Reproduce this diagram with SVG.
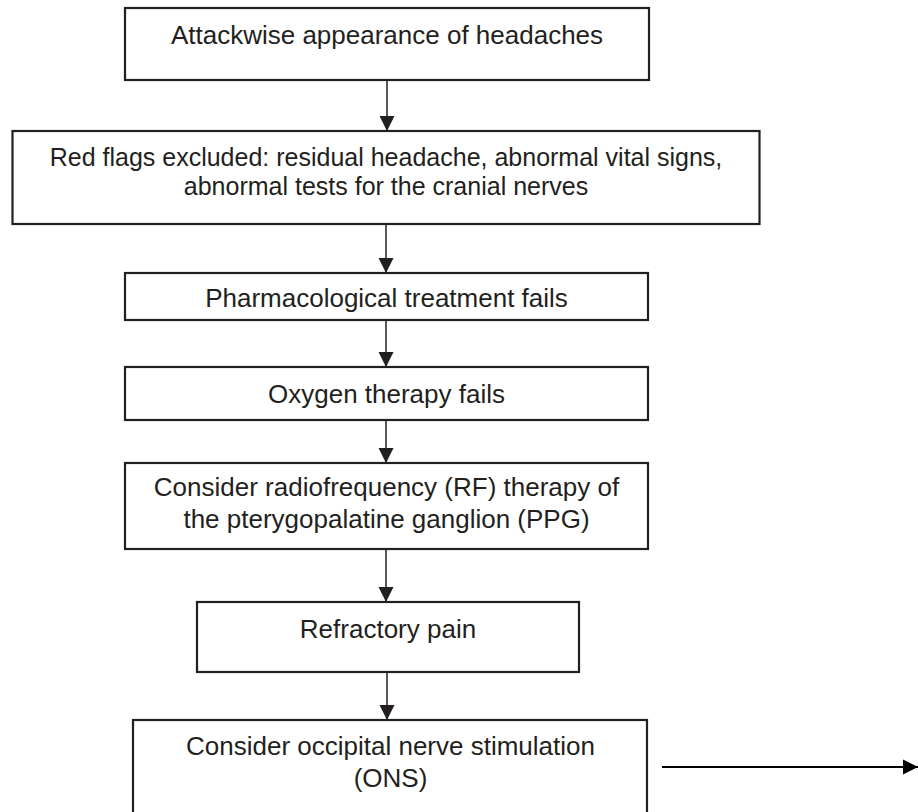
<svg xmlns="http://www.w3.org/2000/svg" width="918" height="812" viewBox="0 0 918 812">
<style>
.box{fill:#fff;stroke:#231f20;stroke-width:2.2}
.t{font-family:"Liberation Sans",Arial,sans-serif;font-size:26px;fill:#231f20;text-anchor:middle}
.s{font-size:25px}
.c{stroke:#231f20;stroke-width:1.5;fill:none}
.c2{stroke:#000;stroke-width:2.2;fill:none}
</style>
<defs>
<marker id="ah" markerUnits="userSpaceOnUse" markerWidth="16" markerHeight="16" viewBox="0 0 16 16" refX="15" refY="8" orient="auto">
<path d="M0,0.5 L15,8 L0,15.5 Z" fill="#231f20"/>
</marker>
<marker id="ah2" markerUnits="userSpaceOnUse" markerWidth="16" markerHeight="16" viewBox="0 0 16 16" refX="15" refY="8" orient="auto">
<path d="M0,0.5 L15,8 L0,15.5 Z" fill="#000"/>
</marker>
</defs>
<rect width="918" height="812" fill="#fff"/>
<g id="connectors">
<line class="c" x1="387" y1="80" x2="387" y2="131" marker-end="url(#ah)"/>
<line class="c" x1="386" y1="224" x2="386" y2="273" marker-end="url(#ah)"/>
<line class="c" x1="386" y1="320" x2="386" y2="367" marker-end="url(#ah)"/>
<line class="c" x1="386" y1="420" x2="386" y2="463" marker-end="url(#ah)"/>
<line class="c" x1="386" y1="549" x2="386" y2="602" marker-end="url(#ah)"/>
<line class="c" x1="387" y1="672" x2="387" y2="720" marker-end="url(#ah)"/>
<line class="c2" x1="662" y1="767" x2="918" y2="767" marker-end="url(#ah2)"/>
</g>
<g id="n1">
<rect class="box" x="125" y="8" width="524" height="72"/>
<text class="t" x="387" y="44">Attackwise appearance of headaches</text>
</g>
<g id="n2">
<rect class="box" x="12.5" y="131" width="747" height="93"/>
<text class="t s" x="386" y="166">Red flags excluded: residual headache, abnormal vital signs,</text>
<text class="t s" x="386" y="195">abnormal tests for the cranial nerves</text>
</g>
<g id="n3">
<rect class="box" x="125" y="273" width="523" height="47"/>
<text class="t" x="386.5" y="307">Pharmacological treatment fails</text>
</g>
<g id="n4">
<rect class="box" x="125" y="367" width="523" height="53"/>
<text class="t" x="386.5" y="403">Oxygen therapy fails</text>
</g>
<g id="n5">
<rect class="box" x="125" y="463" width="523" height="86"/>
<text class="t" x="386.5" y="496">Consider radiofrequency (RF) therapy of</text>
<text class="t" x="386.5" y="528">the pterygopalatine ganglion (PPG)</text>
</g>
<g id="n6">
<rect class="box" x="197" y="602" width="382" height="70"/>
<text class="t" x="388" y="638">Refractory pain</text>
</g>
<g id="n7">
<rect class="box" x="133" y="720" width="514" height="110"/>
<text class="t" x="390.5" y="755">Consider occipital nerve stimulation</text>
<text class="t" x="390.5" y="787">(ONS)</text>
</g>
</svg>
